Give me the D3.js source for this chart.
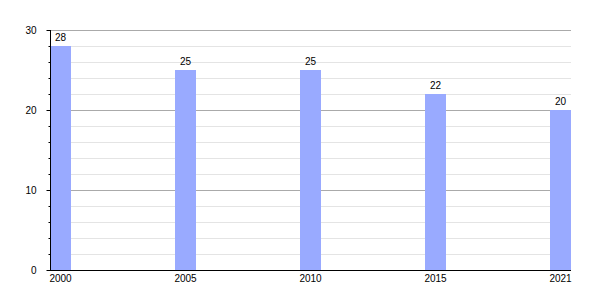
<!DOCTYPE html>
<html>
<head>
<meta charset="utf-8">
<script src="https://cdn.jsdelivr.net/npm/d3@7"></script>
<style>
  body { margin: 0; background: #fff; }
  text { font-family: "Liberation Sans", Arial, sans-serif; font-size: 10px; fill: #000; }
</style>
</head>
<body>
<div id="chart"></div>
<script>
// chart data
var years = ["2000", "2005", "2010", "2015", "2021"];
var values = [28, 25, 25, 22, 20];
var majorTicks = [0, 10, 20, 30];
var minorTicks = [2, 4, 6, 8, 12, 14, 16, 18, 22, 24, 26, 28];

var width = 600, height = 300;
var plotLeft = 50, plotRight = 571, plotTop = 30, plotBottom = 270;
var barWidth = 21;

var svg = d3.select("#chart").append("svg")
    .attr("width", width)
    .attr("height", height);

var y = d3.scaleLinear().domain([0, 30]).range([plotBottom, plotTop]);
var x = d3.scalePoint().domain(years).range([plotLeft, plotRight - barWidth]);

// grid
svg.append("g").selectAll("line")
    .data(minorTicks)
  .enter().append("line")
    .attr("x1", plotLeft).attr("x2", plotRight)
    .attr("y1", function(d) { return Math.round(y(d)) + 0.5; })
    .attr("y2", function(d) { return Math.round(y(d)) + 0.5; })
    .style("stroke", "#e4e4e4");

svg.append("g").selectAll("line")
    .data(majorTicks.filter(function(d) { return d > 0; }))
  .enter().append("line")
    .attr("x1", plotLeft).attr("x2", plotRight)
    .attr("y1", function(d) { return Math.round(y(d)) + 0.5; })
    .attr("y2", function(d) { return Math.round(y(d)) + 0.5; })
    .style("stroke", "#aaaaaa");

// bars
svg.append("g").selectAll("rect")
    .data(values)
  .enter().append("rect")
    .attr("x", function(d, i) { return x(years[i]); })
    .attr("y", function(d) { return y(d); })
    .attr("width", barWidth)
    .attr("height", function(d) { return plotBottom - y(d); })
    .style("fill", "#99aaff");

// value labels
svg.append("g").selectAll("text")
    .data(values)
  .enter().append("text")
    .attr("x", function(d, i) { return x(years[i]) + barWidth / 2; })
    .attr("y", function(d) { return y(d) - 5; })
    .attr("text-anchor", "middle")
    .text(function(d) { return d; });

// y axis
var yAxis = d3.axisLeft(y).tickValues(majorTicks).tickSize(4).tickPadding(10);
var gy = svg.append("g")
    .attr("transform", "translate(" + (plotLeft + 0.5) + ",0)")
    .call(yAxis);
gy.attr("font-size", null).attr("font-family", null);
gy.select(".domain").attr("d", "M0," + plotTop + "V" + plotBottom).style("stroke", "#000");
gy.selectAll(".tick line").style("stroke", "#000");

var gyMinor = svg.append("g")
    .attr("transform", "translate(" + (plotLeft + 0.5) + ",0)")
    .call(d3.axisLeft(y).tickValues(minorTicks).tickSize(2).tickFormat(""));
gyMinor.select(".domain").remove();
gyMinor.selectAll(".tick line").style("stroke", "#000");

// x axis line
svg.append("line")
    .attr("x1", plotLeft).attr("x2", plotRight)
    .attr("y1", plotBottom + 0.5).attr("y2", plotBottom + 0.5)
    .style("stroke", "#000");

// year labels
svg.append("g").selectAll("text")
    .data(years)
  .enter().append("text")
    .attr("x", function(d) { return x(d) + barWidth / 2; })
    .attr("y", plotBottom + 12)
    .attr("text-anchor", "middle")
    .text(function(d) { return d; });
</script>
</body>
</html>
